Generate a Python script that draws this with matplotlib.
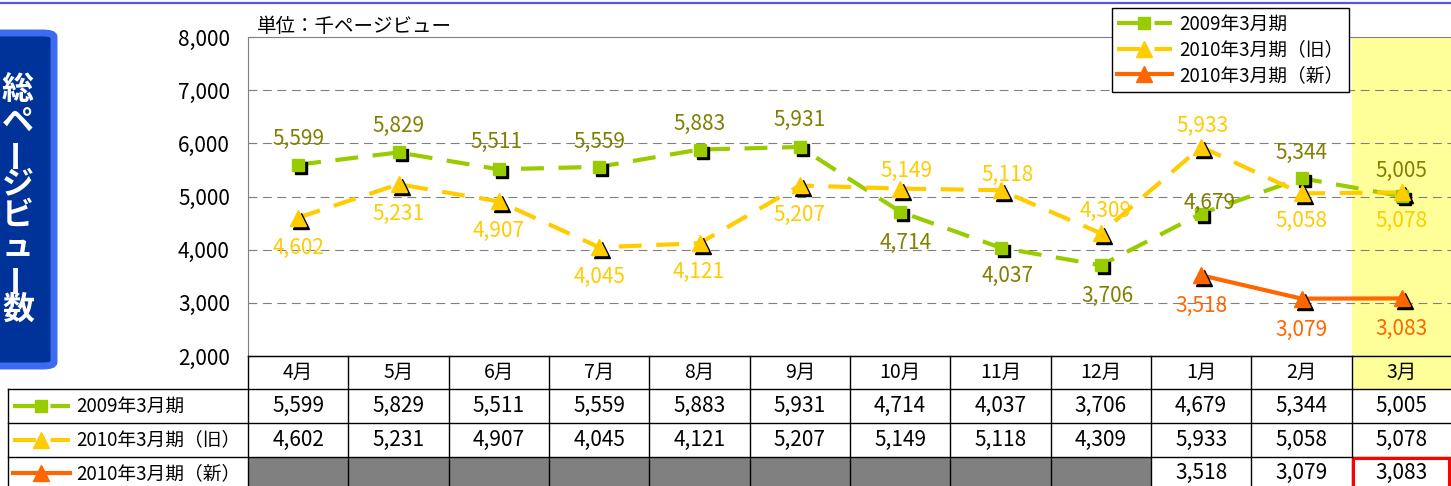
import matplotlib
matplotlib.use("Agg")
import matplotlib.pyplot as plt
from matplotlib.patches import Rectangle, FancyBboxPatch
from matplotlib.lines import Line2D
from matplotlib.transforms import offset_copy
from matplotlib.ticker import FuncFormatter

plt.rcParams["font.family"] = ["Noto Sans CJK JP", "DejaVu Sans"]

# ------------------------------------------------------------
# data
# ------------------------------------------------------------
months = ["4月", "5月", "6月", "7月", "8月", "9月", "10月", "11月", "12月", "1月", "2月", "3月"]
fy2009 = [5599, 5829, 5511, 5559, 5883, 5931, 4714, 4037, 3706, 4679, 5344, 5005]
fy2010_old = [4602, 5231, 4907, 4045, 4121, 5207, 5149, 5118, 4309, 5933, 5058, 5078]
fy2010_new = [3518, 3079, 3083]  # 1月..3月
new_start = 9
series_names = ["2009年3月期", "2010年3月期（旧）", "2010年3月期（新）"]
unit_text = "単位：千ページビュー"
side_title = "総ページビュー数"

# ------------------------------------------------------------
# style
# ------------------------------------------------------------
W, H = 1451, 486
GREEN, YELLOW, ORANGE = "#99cc00", "#ffcc00", "#ff6600"
GREEN_TXT = "#808000"
FS = 13.5      # japanese text
FSN = 15       # numbers
DASH = (0, (5.5, 3.5))

# label offsets in pixels (dx, dy image-down positive)
lab_g = [(0, -26), (0, -26), (-2, -27), (0, -25), (0, -26), (0, -27),
         (6, 31), (7, 28), (7, 31), (9, -11), (0, -25), (0, -25)]
lab_y = [(0, 30), (0, 30), (0, 30), (0, 30), (-1, 29), (0, 29),
         (6, -18), (7, -15), (5, -22), (1, -21), (0, 28), (0, 29)]
lab_o = [(0, 31), (0, 31), (0, 31)]


def fx(px):
    return px / W


def fy(py):
    return 1 - py / H


fig = plt.figure(figsize=(W / 100, H / 100), dpi=100)

# top blue rule
fig.add_artist(Line2D([0, 1], [fy(3), fy(3)], color="#5555ee", lw=1.6))

# left title box
box = FancyBboxPatch((fx(-20), fy(366)), fx(74), (366 - 33) / H,
                     boxstyle="round,pad=0,rounding_size=0.008",
                     transform=fig.transFigure, facecolor="#003399",
                     edgecolor="#3b6cf0", lw=5)
fig.add_artist(box)
for k, ch in enumerate(side_title):
    rot = 90 if ch == "ー" else 0
    fig.text(fx(18), fy(90 + k * 31.4), ch, color="white", fontsize=23,
             fontweight="bold", ha="center", va="center", rotation=rot)

# ------------------------------------------------------------
# main chart
# ------------------------------------------------------------
ax = fig.add_axes([fx(248), fy(356), (1452 - 248) / W, (356 - 37) / H])
x = list(range(len(months)))
x_new = x[new_start:]

ax.axvspan(10.5, 11.5, color="#ffff99", zorder=0, lw=0)
for v in range(3000, 8000, 1000):
    ax.axhline(v, color="#808080", lw=0.8, ls=(0, (8, 5)), zorder=1)

shadow = offset_copy(ax.transData, fig=fig, x=3, y=-3, units="dots")

ax.plot(x, fy2009, color=GREEN, lw=3, ls=DASH, zorder=3)
ax.plot(x, fy2009, ls="none", marker="s", ms=8.5, color="black", transform=shadow, zorder=4)
ax.plot(x, fy2009, ls="none", marker="s", ms=8.5, color=GREEN, zorder=5)

ax.plot(x, fy2010_old, color=YELLOW, lw=3, ls=DASH, zorder=3)
ax.plot(x, fy2010_old, ls="none", marker="^", ms=11, color="black", transform=shadow, zorder=4)
ax.plot(x, fy2010_old, ls="none", marker="^", ms=11, color=YELLOW, zorder=5)

ax.plot(x_new, fy2010_new, color=ORANGE, lw=3, zorder=3)
ax.plot(x_new, fy2010_new, ls="none", marker="^", ms=12, color="black", transform=shadow, zorder=4)
ax.plot(x_new, fy2010_new, ls="none", marker="^", ms=12, color=ORANGE, zorder=5)

for xs, ys, offs, col in [(x, fy2009, lab_g, GREEN_TXT),
                          (x, fy2010_old, lab_y, YELLOW),
                          (x_new, fy2010_new, lab_o, ORANGE)]:
    for xi, yi, (dx, dy) in zip(xs, ys, offs):
        ax.annotate(f"{yi:,}", (xi, yi), xytext=(dx, -dy), textcoords="offset pixels",
                    ha="center", va="center", color=col, fontsize=FSN, zorder=6)

ax.set_xlim(-0.5, 11.5)
ax.set_ylim(2000, 8000)
ax.set_yticks(range(2000, 8001, 1000))
ax.yaxis.set_major_formatter(FuncFormatter(lambda v, p: f"{int(v):,}"))
ax.tick_params(axis="y", direction="in", length=6, color="#808080", pad=13, labelsize=FSN)
ax.set_xticks([])
for s in ["left", "top"]:
    ax.spines[s].set_color("#808080")
ax.spines["right"].set_visible(False)
ax.spines["bottom"].set_color("black")

fig.text(fx(257), fy(27), unit_text, fontsize=FS + 0.5, ha="left", va="center")

handles = [
    Line2D([], [], color=GREEN, lw=3, ls=DASH, marker="s", ms=8.5),
    Line2D([], [], color=YELLOW, lw=3, ls=DASH, marker="^", ms=11),
    Line2D([], [], color=ORANGE, lw=3, marker="^", ms=12),
]
leg = ax.legend(handles, series_names, loc="upper right",
                bbox_to_anchor=(fx(1349), fy(8)), bbox_transform=fig.transFigure,
                borderaxespad=0, fontsize=FS, handlelength=2.9, handletextpad=0.4,
                labelspacing=0.25, borderpad=0.3, fancybox=False, framealpha=1,
                edgecolor="black", numpoints=1)
leg.get_frame().set_linewidth(1.0)
leg.set_zorder(10)

# ------------------------------------------------------------
# data table
# ------------------------------------------------------------
PXU = 1204 / 12
x_left = -0.5 - 240 / PXU
tab = fig.add_axes([fx(8), fy(490), (1452 - 8) / W, 134 / H])
tab.set_xlim(x_left, 11.5)
tab.set_ylim(4, 0)
tab.axis("off")


def tx(px):
    return x_left + (px - 8) / PXU


tab.add_patch(Rectangle((10.5, 0), 1, 1, facecolor="#ffff99", lw=0))
for j in range(new_start):
    tab.add_patch(Rectangle((j - 0.5, 3), 1, 1, facecolor="#808080", lw=0))

lk = dict(color="black", lw=1.0, clip_on=False)
tab.plot([-0.5, 11.5], [0, 0], **lk)
for r in (1, 2, 3):
    tab.plot([x_left, 11.5], [r, r], **lk)
tab.plot([x_left, x_left], [1, 4], **lk)
for j in range(13):
    tab.plot([j - 0.5, j - 0.5], [0, 4], **lk)

for j, m in enumerate(months):
    tab.text(j, 0.5, m, ha="center", va="center", fontsize=FS + 0.5)
    tab.text(j, 1.5, f"{fy2009[j]:,}", ha="center", va="center", fontsize=FSN)
    tab.text(j, 2.5, f"{fy2010_old[j]:,}", ha="center", va="center", fontsize=FSN)
for xi, v in zip(x_new, fy2010_new):
    tab.text(xi, 3.5, f"{v:,}", ha="center", va="center", fontsize=FSN)

tab.add_patch(Rectangle((10.5 + 0.01, 3.03), 0.96, 0.94, facecolor="none",
                        edgecolor="red", lw=2.2, clip_on=False, zorder=5))

# row legend samples
samples = [(GREEN, DASH, "s", 8.5), (YELLOW, DASH, "^", 11), (ORANGE, "-", "^", 12)]
for r, ((col, ls, mk, ms), name) in enumerate(zip(samples, series_names), start=1):
    tab.plot([tx(13), tx(70)], [r + 0.5, r + 0.5], color=col, lw=3, ls=ls, clip_on=False)
    tab.plot([tx(41)], [r + 0.5], marker=mk, ms=ms, color=col, clip_on=False)
    tab.text(tx(76), r + 0.5, name, ha="left", va="center", fontsize=FS)

fig.savefig("out.png", dpi=100)
